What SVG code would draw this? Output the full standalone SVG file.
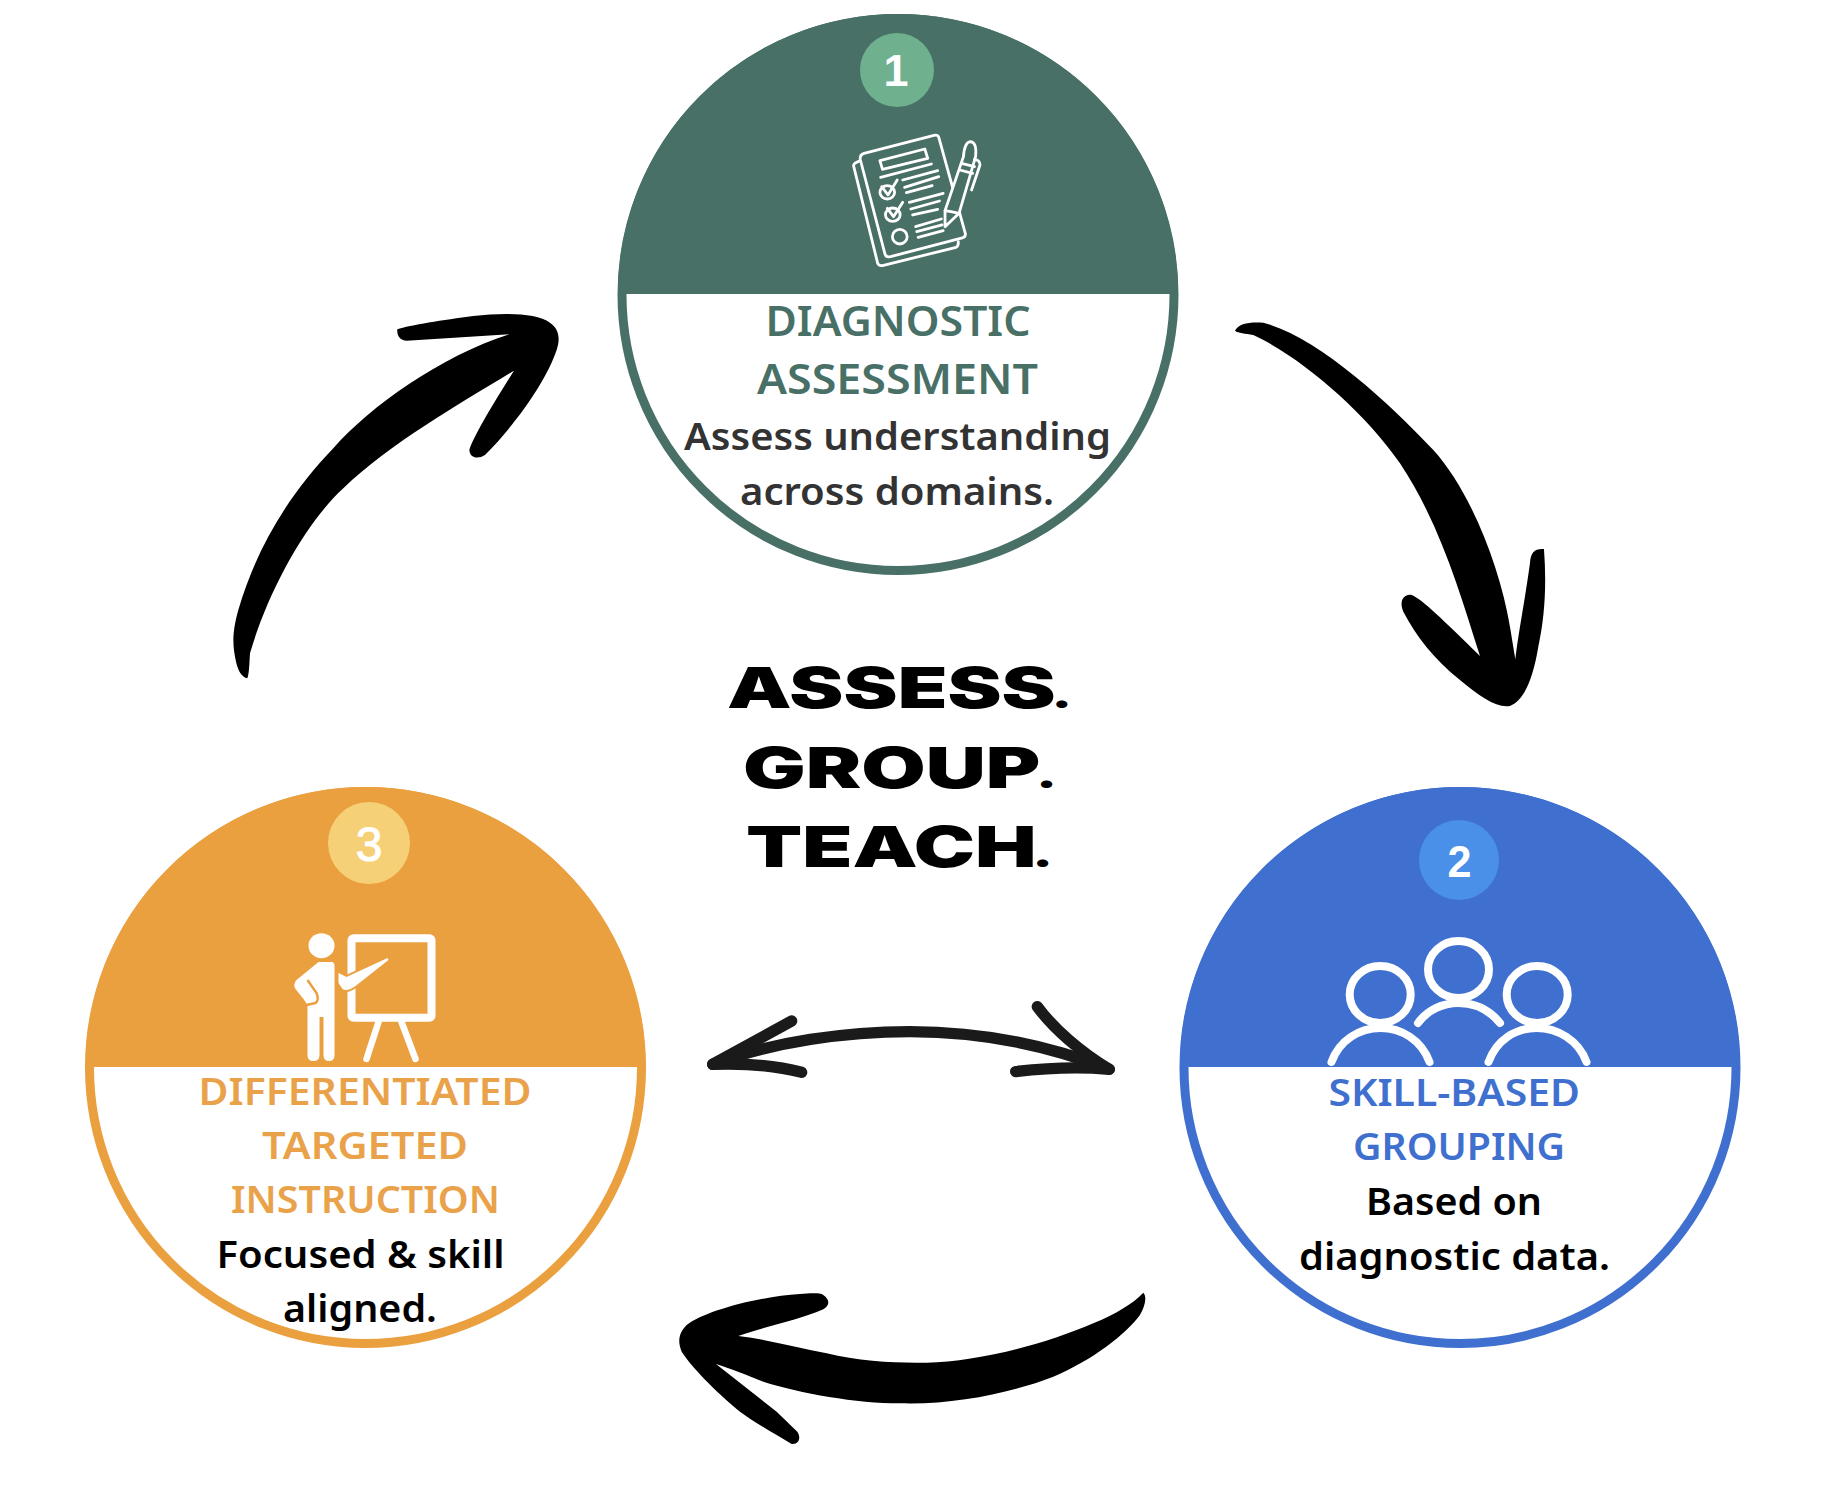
<svg xmlns="http://www.w3.org/2000/svg" width="1840" height="1498" viewBox="0 0 1840 1498">
<style>
text{font-family:"Noto Sans","Open Sans","Liberation Sans",sans-serif;font-weight:600}
.hd{font-family:Inter,"Liberation Sans",sans-serif;font-weight:900;font-size:56px;fill:#000}
.p{font-size:38px}
.t1{font-size:41px;fill:#487066}.t2{font-size:38px;fill:#4070cf}.t3{font-size:38px;fill:#e9a24a}
.b{font-size:38px;fill:#000}.b1{font-size:38px;fill:#333}
.n{font-family:"Liberation Sans",sans-serif;font-weight:700;fill:#fff;text-anchor:middle}
.w{fill:none;stroke:#fff;stroke-linecap:round;stroke-linejoin:round}
.ns{vector-effect:non-scaling-stroke;stroke-width:2.8}
.arr{fill:#000}
.thin{fill:none;stroke:#1a1a1a;stroke-width:34;stroke-linecap:round;stroke-linejoin:round}
</style>
<rect width="1840" height="1498" fill="#fff"/>
<g id="connectors">
<path class="arr" transform="translate(210,290) scale(.3333)" d="M112,1165C95,1160 85,1145 78,1115C68,1070 65,1030 85,960C140,770 240,610 370,475C480,350 690,200 898,133L590,152C570,152 560,135 562,118C600,105 700,90 790,78C880,68 980,68 1020,98C1050,118 1050,150 1040,180C1010,270 920,400 825,495C805,508 780,505 778,480C790,440 850,340 912,242C760,335 540,460 400,595C290,695 175,900 120,1090C118,1120 118,1150 112,1165Z"/>
<path class="arr" transform="translate(1220,300) scale(.3333)" d="M45,92C55,70 90,65 130,68C290,110 500,300 640,450C750,570 840,800 870,980L886,1078C895,1000 915,900 930,790C932,755 945,745 972,747C980,850 975,950 955,1040C940,1130 915,1200 870,1218C830,1225 780,1190 720,1140C640,1075 590,1010 550,935C535,900 555,880 575,885C600,895 640,930 780,1068C720,880 660,670 540,490C430,330 240,170 100,105C75,100 55,100 45,92Z"/>
<path class="arr" transform="translate(660,1270) scale(.3333)" d="M1450,68C1462,80 1455,110 1440,135C1400,190 1300,270 1180,320C1050,370 880,405 720,400C590,400 420,370 310,335C260,315 210,295 168,282L350,425L412,485C425,505 415,525 395,522C340,490 280,455 240,425C190,385 100,300 65,245C50,210 60,185 80,165C130,125 290,80 420,72C450,70 480,68 490,75C510,90 510,105 490,118C420,150 310,170 235,198C330,210 420,235 500,250C600,275 720,280 800,278C950,275 1150,225 1300,160C1370,130 1420,100 1450,68Z"/>
<g transform="translate(690,640) scale(.3333)">
<path class="thin" d="M68,1273C250,1205 470,1175 660,1175C860,1175 1060,1210 1258,1288"/>
<path class="thin" d="M305,1143L68,1273C150,1270 250,1275 335,1297"/>
<path class="thin" d="M1042,1100C1090,1165 1170,1235 1258,1288C1170,1280 1060,1285 977,1295"/>
</g>
</g>
<g id="heading">
<text class="hd" x="727" y="708" textLength="345" lengthAdjust="spacingAndGlyphs">ASSESS<tspan class="p" dx="-3">.</tspan></text>
<text class="hd" x="743" y="788" textLength="314" lengthAdjust="spacingAndGlyphs">GROUP<tspan class="p" dx="-3">.</tspan></text>
<text class="hd" x="746" y="867" textLength="307" lengthAdjust="spacingAndGlyphs">TEACH<tspan class="p" dx="-3">.</tspan></text>
</g>
<g id="node-1">
<circle cx="898" cy="294.500" r="276" fill="#fff" stroke="#487066" stroke-width="9"/>
<path d="M618,294A280,280 0 0 1 1178,294Z" fill="#487066"/>
<circle cx="897" cy="70" r="37" fill="#6fb08f"/>
<text class="n" x="896" y="85.500" font-size="45">1</text>
<g transform="translate(612,0) scale(.368,.3333)" fill="#487066">
<path class="w ns" d="M672,483L660,490Q655,495 657,500L722,790Q725,798 735,797L935,742Q942,738 941,725"/>
<path class="w ns" d="M685,460L875,406Q885,403 888,412L960,700Q962,710 952,714L757,770Q745,773 742,763L675,480Q672,465 685,460Z"/>
<path class="w ns" d="M728,482L850,447L858,475L735,508Z M730,532L868,492 M790,540L885,512 M795,562L888,530 M800,578L870,557 M808,607L900,580 M812,627L890,603 M817,645L885,628 M825,680L895,657 M828,695L897,675 M832,712L900,692"/>
<ellipse class="w ns" cx="748" cy="577" rx="20" ry="20"/><path class="w ns" d="M733,560L750,585L775,540"/>
<ellipse class="w ns" cx="763" cy="644" rx="20" ry="20"/><path class="w ns" d="M748,625L765,650L790,607"/>
<ellipse class="w ns" cx="782" cy="710" rx="20" ry="22"/>
<path class="ns" stroke="#fff" stroke-linejoin="round" d="M905,680L905,632L955,470Q958,425 975,425Q992,428 988,470L943,640Z"/>
<path class="w ns" d="M905,632Q925,635 943,640M950,490L985,500M945,510L980,520M985,478Q1000,480 1000,495L977,570"/>
</g>
<text class="t1" x="765.500" y="336" textLength="265" lengthAdjust="spacingAndGlyphs">DIAGNOSTIC</text>
<text class="t1" x="757" y="394" textLength="281" lengthAdjust="spacingAndGlyphs">ASSESSMENT</text>
<text class="b1" x="684" y="450" textLength="427" lengthAdjust="spacingAndGlyphs">Assess understanding</text>
<text class="b1" x="740" y="505" textLength="314" lengthAdjust="spacingAndGlyphs">across domains.</text>
</g>
<g id="node-2">
<circle cx="1460" cy="1067.500" r="276" fill="#fff" stroke="#4070cf" stroke-width="9"/>
<path d="M1180,1067A280,280 0 0 1 1740,1067Z" fill="#4070cf"/>
<circle cx="1459" cy="860" r="40" fill="#4a90e8"/>
<text class="n" x="1459.500" y="877" font-size="45" textLength="24" lengthAdjust="spacingAndGlyphs">2</text>
<g class="w" stroke-width="8" transform="translate(-2.500,0)">
<ellipse cx="1461" cy="969.500" rx="30.500" ry="28.500"/>
<ellipse cx="1382.700" cy="994.500" rx="30.500" ry="28.500"/>
<ellipse cx="1539.700" cy="994.500" rx="30.500" ry="28.500"/>
<path d="M1420.500,1023C1430,1010 1445,1003 1461,1003C1477,1003 1492,1010 1502.500,1023"/>
<path d="M1334,1062C1342,1040 1362,1028 1383,1028C1404,1028 1424,1040 1432,1062"/>
<path d="M1491,1062C1499,1040 1518,1028 1539,1028C1560,1028 1581,1040 1589,1062"/>
</g>
<text class="t2" x="1328.500" y="1106" textLength="251.500" lengthAdjust="spacingAndGlyphs">SKILL-BASED</text>
<text class="t2" x="1353" y="1160" textLength="212" lengthAdjust="spacingAndGlyphs">GROUPING</text>
<text class="b" x="1366" y="1215" textLength="176" lengthAdjust="spacingAndGlyphs">Based on</text>
<text class="b" x="1299" y="1270" textLength="311" lengthAdjust="spacingAndGlyphs">diagnostic data.</text>
</g>
<g id="node-3">
<circle cx="365.500" cy="1067.500" r="276" fill="#fff" stroke="#eba040" stroke-width="9"/>
<path d="M85.500,1067A280,280 0 0 1 645.500,1067Z" fill="#eba040"/>
<circle cx="369" cy="843" r="41" fill="#f6d076"/>
<text class="n" x="369" y="861" font-size="48" stroke="#fff" stroke-width="1" style="font-weight:400">3</text>
<g transform="translate(-2.500,0)">
<rect x="354" y="938.300" width="80" height="79.500" rx="2" fill="none" stroke="#fff" stroke-width="8"/>
<path class="w" stroke-width="6.500" d="M381,1022L369,1059M404,1022L418,1059"/>
<ellipse cx="324" cy="945.700" rx="13" ry="12.500" fill="#fff"/>
<path fill="#fff" d="M321,962L334,962Q337,962 337,966L337,1055Q337,1061 331.500,1061Q326,1061 326,1055L326,1017L322,1017L322,1055Q322,1061 316,1061Q310,1061 310,1055L310,1005L306,999L298,989Q295,984 299,980Z"/>
<path fill="none" stroke="#eba040" stroke-width="2.500" d="M310,980L319,993Q322,1000 318,1003L309,1005"/>
<path fill="#fff" stroke="#eba040" stroke-width="4" paint-order="stroke" d="M341,973L349,977L390,958L391,960L358,986Q350,992 345,989L341,983Z"/>
</g>
<text class="t3" x="198.500" y="1105" textLength="333" lengthAdjust="spacingAndGlyphs">DIFFERENTIATED</text>
<text class="t3" x="262" y="1159" textLength="206" lengthAdjust="spacingAndGlyphs">TARGETED</text>
<text class="t3" x="231" y="1213" textLength="269" lengthAdjust="spacingAndGlyphs">INSTRUCTION</text>
<text class="b" x="216.500" y="1268" textLength="288" lengthAdjust="spacingAndGlyphs">Focused &amp; skill</text>
<text class="b" x="283" y="1322" textLength="154" lengthAdjust="spacingAndGlyphs">aligned.</text>
</g>
</svg>
